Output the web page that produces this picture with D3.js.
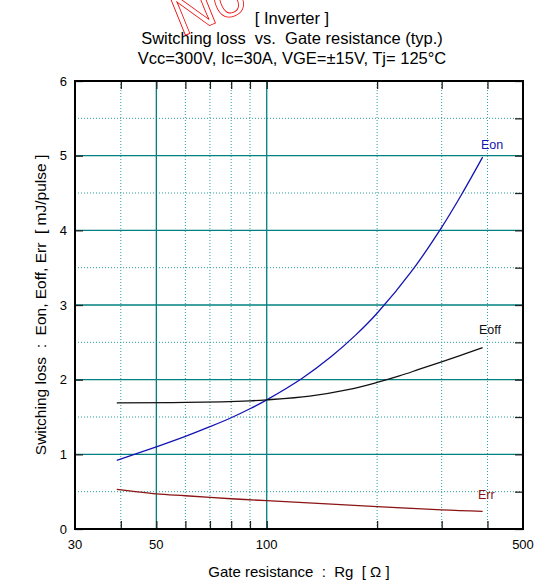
<!DOCTYPE html>
<html>
<head>
<meta charset="utf-8">
<script src="https://cdn.jsdelivr.net/npm/d3@7"></script>
<style>
  body { margin: 0; background: #fff; }
  text { font-family: "Liberation Sans", Arial, sans-serif; white-space: pre; }
</style>
</head>
<body>
<div class="canvas"></div>
<script>
const width = 534, height = 583

// data: [Rg (ohm), energy (mJ/pulse)]
const eon = [[39, 0.92], [50, 1.10], [60, 1.24], [70, 1.37], [80, 1.49], [90, 1.61], [100, 1.73],
    [125, 2.02], [150, 2.31], [175, 2.60], [200, 2.89], [250, 3.47], [300, 4.04], [340, 4.48], [388, 4.98]]
const eoff = [[39, 1.69], [60, 1.695], [90, 1.717], [100, 1.73], [131, 1.78], [168, 1.87],
    [199, 1.96], [230, 2.05], [261, 2.14], [335, 2.32], [388, 2.43]]
const err = [[39, 0.53], [50, 0.47], [60, 0.445], [80, 0.405], [100, 0.38], [200, 0.30], [300, 0.255], [388, 0.237]]

const xTickLabels = [30, 50, 100, 500]
const xMajorGrid = [50, 100]
const xMinorGrid = [40, 60, 70, 80, 90, 200, 300, 400]
const yTickLabels = [0, 1, 2, 3, 4, 5, 6]
const yMajorGrid = [1, 2, 3, 4, 5]
const yMinorGrid = [0.5, 1.5, 2.5, 3.5, 4.5, 5.5]

const titleLines = ['[ Inverter ]', 'Switching loss  vs.  Gate resistance (typ.)', 'Vcc=300V, Ic=30A, VGE=±15V, Tj= 125°C']

const svg = d3.select('.canvas').append('svg').attr('width', width).attr('height', height)

let [mt, mr, mb, ml] = [81, 11, 54, 75]
const graphWidth = width - ml - mr
const graphHeight = height - mt - mb

const x = d3.scaleLog().domain([30, 500]).range([0, graphWidth])
const y = d3.scaleLinear().domain([0, 6]).range([graphHeight, 0])

const graph = svg.append('g').attr('transform', `translate(${ml}, ${mt})`)

const teal = '#008080'

// grid
graph.selectAll('.gxm').data(xMinorGrid).enter().append('line')
    .attr('x1', d => x(d)).attr('x2', d => x(d)).attr('y1', 0).attr('y2', graphHeight)
    .attr('stroke', '#2aa0a0').attr('stroke-width', 1).attr('stroke-dasharray', '1,2')
graph.selectAll('.gym').data(yMinorGrid).enter().append('line')
    .attr('y1', d => y(d)).attr('y2', d => y(d)).attr('x1', 0).attr('x2', graphWidth)
    .attr('stroke', '#2aa0a0').attr('stroke-width', 1).attr('stroke-dasharray', '1,2')
graph.selectAll('.gxM').data(xMajorGrid).enter().append('line')
    .attr('x1', d => x(d)).attr('x2', d => x(d)).attr('y1', 0).attr('y2', graphHeight)
    .attr('stroke', teal).attr('stroke-width', 1.3)
graph.selectAll('.gyM').data(yMajorGrid).enter().append('line')
    .attr('y1', d => y(d)).attr('y2', d => y(d)).attr('x1', 0).attr('x2', graphWidth)
    .attr('stroke', teal).attr('stroke-width', 1.3)

// axes with inward ticks
const xTicksAll = xMinorGrid.concat(xMajorGrid)
graph.append('g').attr('transform', `translate(0, ${graphHeight})`)
    .call(d3.axisBottom(x).tickValues(xTicksAll).tickSizeInner(-8).tickSizeOuter(0).tickFormat(''))
graph.append('g')
    .call(d3.axisTop(x).tickValues(xTicksAll).tickSizeInner(-8).tickSizeOuter(0).tickFormat(''))
graph.append('g')
    .call(d3.axisLeft(y).tickValues(yTickLabels).tickSizeInner(-8).tickSizeOuter(0).tickFormat(''))
graph.append('g').attr('transform', `translate(${graphWidth}, 0)`)
    .call(d3.axisRight(y).tickValues(yTickLabels.concat(yMinorGrid)).tickSizeInner(-8).tickSizeOuter(0).tickFormat(''))
graph.selectAll('.domain').remove()
graph.selectAll('.tick line').attr('stroke', '#222').attr('stroke-width', 1.3)

// frame
graph.append('rect').attr('width', graphWidth).attr('height', graphHeight)
    .attr('fill', 'none').attr('stroke', '#000').attr('stroke-width', 2)

// tick labels
graph.selectAll('.xl').data(xTickLabels).enter().append('text')
    .attr('x', d => x(d)).attr('y', graphHeight + 20).attr('text-anchor', 'middle')
    .style('font-size', '13px').text(d => d)
graph.selectAll('.yl').data(yTickLabels).enter().append('text')
    .attr('x', -8).attr('y', d => y(d) + 4.5).attr('text-anchor', 'end')
    .style('font-size', '13px').text(d => d)

// curves
const line = d3.line().x(d => x(d[0])).y(d => y(d[1])).curve(d3.curveCatmullRom.alpha(0.5))
const series = [
    { name: 'Eon', data: eon, color: '#1414b4', lx: 406, ly: 68 },
    { name: 'Eoff', data: eoff, color: '#111', lx: 404, ly: 253 },
    { name: 'Err', data: err, color: '#8b1414', lx: 403, ly: 418 }
]
series.forEach(s => {
    graph.append('path').datum(s.data).attr('d', line)
        .attr('fill', 'none').attr('stroke', s.color).attr('stroke-width', 1.3)
    graph.append('text').attr('x', s.lx).attr('y', s.ly)
        .attr('fill', s.color).style('font-size', '12.5px').text(s.name)
})

// titles
svg.selectAll('.title').data(titleLines).enter().append('text')
    .attr('x', 292).attr('y', (d, i) => 24 + i * 20).attr('text-anchor', 'middle')
    .style('font-size', '16.5px').text(d => d)

// axis labels
svg.append('text').attr('x', ml + graphWidth / 2).attr('y', 577).attr('text-anchor', 'middle')
    .style('font-size', '15px').text('Gate resistance  :  Rg  [ Ω ]')
svg.append('text').attr('transform', `translate(46, ${mt + graphHeight / 2}) rotate(-90)`)
    .attr('text-anchor', 'middle').style('font-size', '15.5px')
    .text('Switching loss  :  Eon, Eoff, Err  [ mJ/pulse ]')

// red outlined watermark, mostly cut off by the top edge
svg.append('text').attr('transform', 'translate(181, 37) rotate(-22)')
    .attr('fill', 'none').attr('stroke', '#e00').attr('stroke-width', 0.8)
    .style('font-size', '58px').text('No')
</script>
</body>
</html>
